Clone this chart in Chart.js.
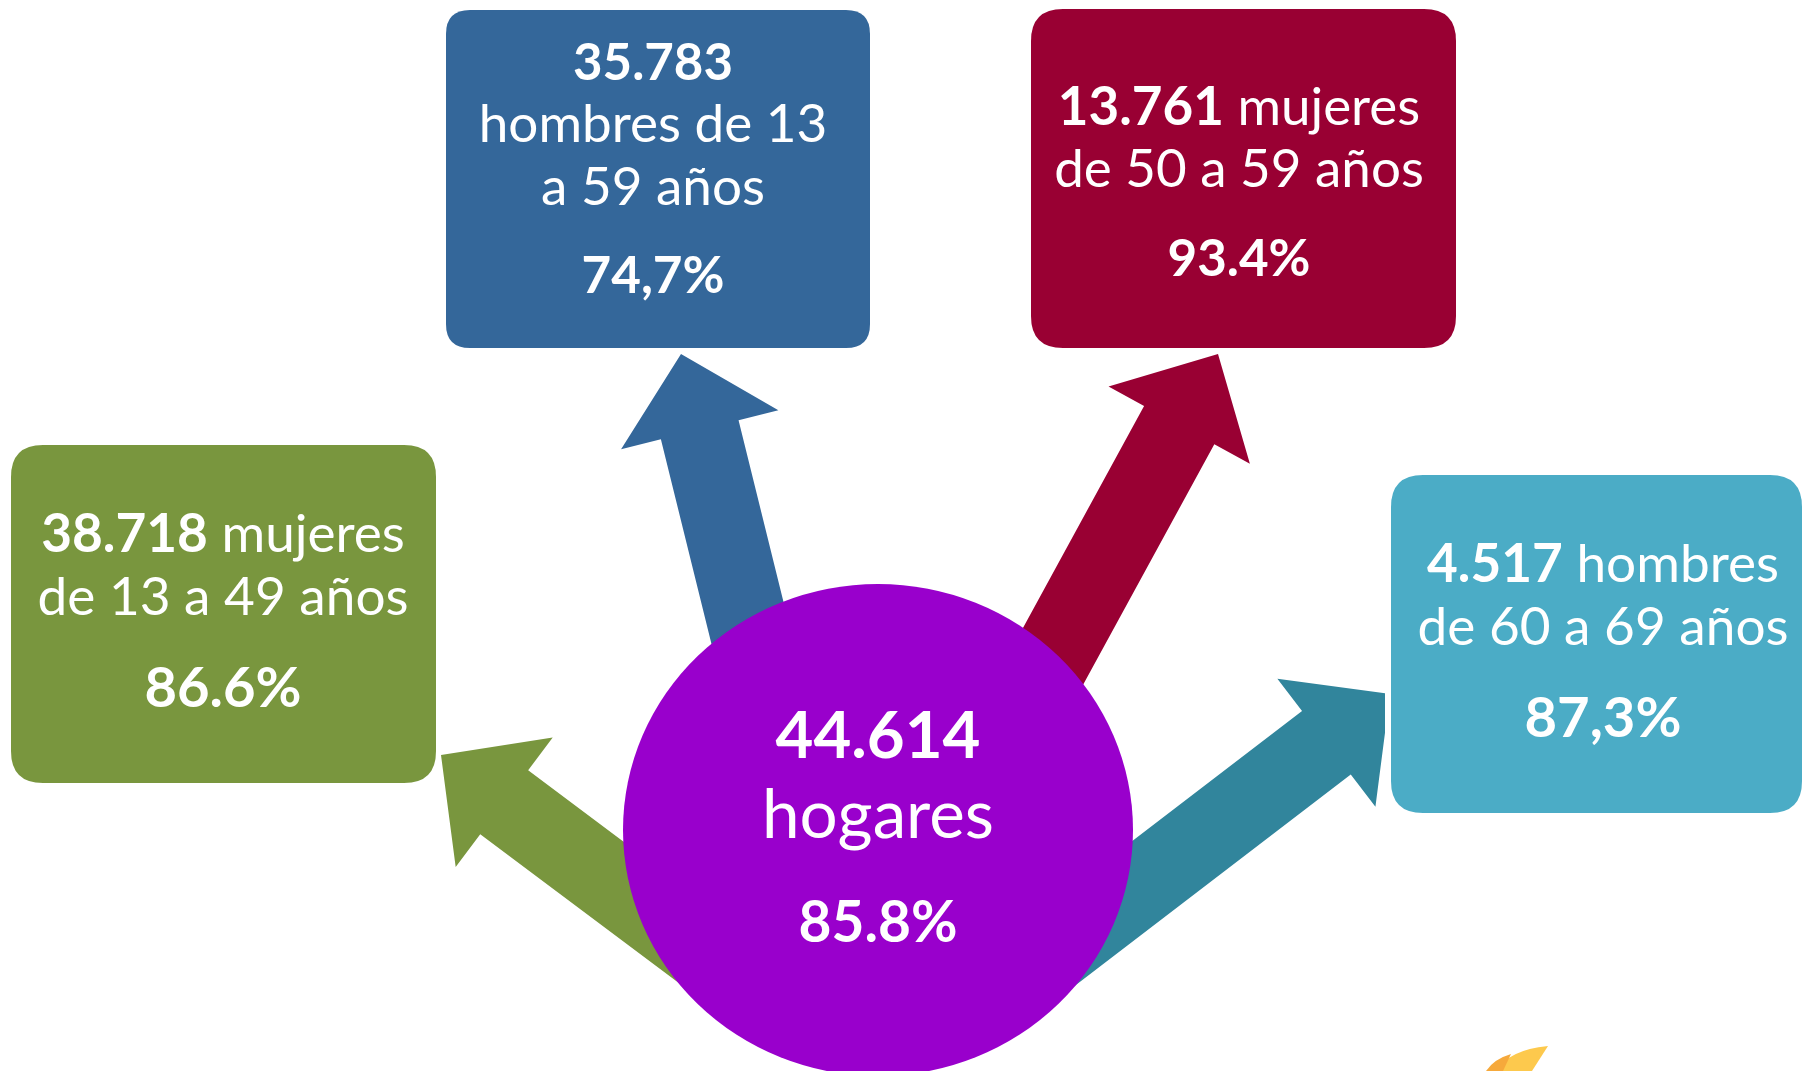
<!DOCTYPE html>
<html><head><meta charset="utf-8">
<script src="https://cdn.jsdelivr.net/npm/chart.js@4.4.1/dist/chart.umd.min.js"></script>
<style>html,body{margin:0;padding:0;background:#fff;overflow:hidden}#wrap{width:1806px;height:1071px}</style>
</head><body><div id="wrap"><canvas id="c" width="1806" height="1071"></canvas></div>
<script>
// ---------- DATA ----------
const categories = ['hombres de 13 a 59 años', 'mujeres de 50 a 59 años', 'mujeres de 13 a 49 años', 'hombres de 60 a 69 años'];
const counts = [35783, 13761, 38718, 4517];
const percentLabels = ['74,7%', '93.4%', '86.6%', '87,3%'];
const labelLines = [
  ['{n}', 'hombres de 13', 'a 59 años'],
  ['{n} mujeres', 'de 50 a 59 años'],
  ['{n} mujeres', 'de 13 a 49 años'],
  ['{n} hombres', 'de 60 a 69 años']
];
const totalCount = 44614;
const totalLabel = 'hogares';
const totalPercent = '85.8%';

// ---------- LAYOUT (scale units) ----------
const W = 1806, H = 1071;
const FONT = 'Lato, "Open Sans", sans-serif';
const boxLayout = [
  {x0:446, y0:10, x1:870, y1:348, r:24, color:'#34679A', cx:653, bases:[80,142,205], widths:[160,350,223], pBase:293, pW:143},
  {x0:1031, y0:9, x1:1456, y1:348, r:32, color:'#990033', cx:1239, bases:[125,187], widths:[364,368], pBase:276, pW:143},
  {x0:11, y0:445, x1:436, y1:783, r:32, color:'#79963E', cx:223, bases:[552,615], widths:[367,368], pBase:707, pW:157},
  {x0:1391, y0:475, x1:1802, y1:813, r:32, color:'#4BACC6', cx:1603, bases:[582,645], widths:[355,368], pBase:737, pW:157}
];
const arrowLayout = [
  {tip:[681,354], dir:[-0.24,-0.971], hl:78, hw:162, sw:80, lenA:380, lenB:380, color:'#34679A'},
  {tip:[1218,354], dir:[0.479,-0.878], hl:81, hw:161, sw:80, lenA:360, lenB:360, color:'#990033'},
  {tip:[441,755], dir:[-0.80,-0.599], hl:79, hw:162, sw:80, lenA:330, lenB:330, color:'#79963E'},
  {tip:[1390,694], dir:[0.795,-0.609], hl:80, hw:161, sw:80, lenA:400, lenB:400, color:'#31859C', clipX:1385}
];
const centerLayout = {cx:878, cy:830, rx:255, ry:246, color:'#9900CC',
  bases:[758,838,942], widths:[205,232,159]};

function fmt(n){ return String(n).replace(/\B(?=(\d{3})+(?!\d))/g,'.'); }

function segsOf(line, n){
  if (line === '{n}') return [{t:fmt(n), b:true}];
  if (line.startsWith('{n}')) return [{t:fmt(n), b:true},{t:line.slice(3), b:false}];
  return [{t:line, b:false}];
}
function measure(ctx, segs, size){
  let w = 0;
  for (const s of segs){ ctx.font = (s.b?'bold ':'') + size + 'px ' + FONT; w += ctx.measureText(s.t).width; }
  return w;
}
function drawSegs(ctx, segs, cx, base, size){
  const w = measure(ctx, segs, size);
  let x = cx - w/2;
  ctx.textAlign = 'left'; ctx.textBaseline = 'alphabetic'; ctx.fillStyle = '#fff';
  for (const s of segs){
    ctx.font = (s.b?'bold ':'') + size + 'px ' + FONT;
    ctx.fillText(s.t, x, base);
    x += ctx.measureText(s.t).width;
  }
}
function fit(ctx, segs, target){ return 100 * target / measure(ctx, segs, 100); }

function roundRect(ctx, x0, y0, x1, y1, r){
  ctx.beginPath();
  ctx.moveTo(x0+r, y0); ctx.lineTo(x1-r, y0); ctx.quadraticCurveTo(x1, y0, x1, y0+r);
  ctx.lineTo(x1, y1-r); ctx.quadraticCurveTo(x1, y1, x1-r, y1);
  ctx.lineTo(x0+r, y1); ctx.quadraticCurveTo(x0, y1, x0, y1-r);
  ctx.lineTo(x0, y0+r); ctx.quadraticCurveTo(x0, y0, x0+r, y0);
  ctx.closePath();
}

const infographic = {
  id:'infographic',
  afterDatasetsDraw(chart){
    const ctx = chart.ctx, xs = chart.scales.x, ys = chart.scales.y;
    const X = v => xs.getPixelForValue(v), Y = v => ys.getPixelForValue(v);
    ctx.save();
    // arrows
    for (const a of arrowLayout){
      const ux=a.dir[0], uy=a.dir[1], px=-uy, py=ux;
      const mx=a.tip[0]-ux*a.hl, my=a.tip[1]-uy*a.hl;
      const pts = [
        [a.tip[0], a.tip[1]],
        [mx+px*a.hw/2, my+py*a.hw/2],
        [mx+px*a.sw/2, my+py*a.sw/2],
        [mx+px*a.sw/2-ux*a.lenB, my+py*a.sw/2-uy*a.lenB],
        [mx-px*a.sw/2-ux*a.lenA, my-py*a.sw/2-uy*a.lenA],
        [mx-px*a.sw/2, my-py*a.sw/2],
        [mx-px*a.hw/2, my-py*a.hw/2]
      ];
      ctx.save();
      if (a.clipX){ ctx.beginPath(); ctx.rect(0,0,X(a.clipX),H); ctx.clip(); }
      ctx.beginPath();
      pts.forEach((p,i)=> i? ctx.lineTo(X(p[0]),Y(p[1])) : ctx.moveTo(X(p[0]),Y(p[1])));
      ctx.closePath(); ctx.fillStyle = a.color; ctx.fill();
      ctx.restore();
    }
    // boxes
    chart.data.datasets[0].data.forEach((d, i) => {
      const b = boxLayout[i];
      roundRect(ctx, X(b.x0), Y(b.y0), X(b.x1), Y(b.y1), b.r);
      ctx.fillStyle = b.color; ctx.fill();
      const lines = labelLines[i].map(l => segsOf(l, d.count));
      const sizes = lines.map((s,k) => fit(ctx, s, b.widths[k]));
      const labelIdx = lines.map((s,k)=>k).filter(k => !(lines[k].length===1 && lines[k][0].b));
      const common = labelIdx.reduce((a,k)=>a+sizes[k],0)/labelIdx.length;
      lines.forEach((s,k) => {
        const sz = (s.length===1 && s[0].b) ? sizes[k] : common;
        drawSegs(ctx, s, X(b.cx), Y(b.bases[k]), sz);
      });
      const ps = [{t:d.pct, b:true}];
      drawSegs(ctx, ps, X(b.cx), Y(b.pBase), fit(ctx, ps, b.pW));
    });
    // center
    const c = centerLayout;
    ctx.beginPath();
    ctx.ellipse(X(c.cx), Y(c.cy), c.rx, c.ry, 0, 0, Math.PI*2);
    ctx.fillStyle = c.color; ctx.fill();
    const cl = [[{t:fmt(totalCount), b:true}], [{t:totalLabel, b:false}], [{t:totalPercent, b:true}]];
    cl.forEach((s,k)=> drawSegs(ctx, s, X(c.cx), Y(c.bases[k]), fit(ctx, s, c.widths[k])));
    // decorative logo fragment bottom-right
    ctx.beginPath();
    ctx.moveTo(X(1497),Y(1071)); ctx.quadraticCurveTo(X(1508),Y(1050),X(1548),Y(1046));
    ctx.lineTo(X(1532),Y(1071)); ctx.closePath(); ctx.fillStyle='#FDC94D'; ctx.fill();
    ctx.beginPath();
    ctx.moveTo(X(1486),Y(1071)); ctx.quadraticCurveTo(X(1494),Y(1059),X(1511),Y(1054));
    ctx.lineTo(X(1503),Y(1071)); ctx.closePath(); ctx.fillStyle='#F6A93B'; ctx.fill();
    ctx.restore();
  }
};

function start(){
  new Chart(document.getElementById('c').getContext('2d'), {
    type:'scatter',
    data:{datasets:[{
      label:'Hogares',
      data: categories.map((cat,i)=>({x:boxLayout[i].cx, y:(boxLayout[i].y0+boxLayout[i].y1)/2, count:counts[i], pct:percentLabels[i], cat})),
      pointRadius:0, showLine:false
    }]},
    options:{
      responsive:false, animation:false, devicePixelRatio:1,
      layout:{padding:0},
      scales:{
        x:{type:'linear', min:0, max:W, display:false},
        y:{type:'linear', min:0, max:H, reverse:true, display:false}
      },
      plugins:{legend:{display:false}, tooltip:{enabled:false}}
    },
    plugins:[infographic]
  });
}
const fl = document.fonts ? Promise.all([document.fonts.load('bold 50px Lato'), document.fonts.load('50px Lato')]) : Promise.resolve();
Promise.race([fl, new Promise(r=>setTimeout(r,800))]).then(start, start);
</script></body></html>
